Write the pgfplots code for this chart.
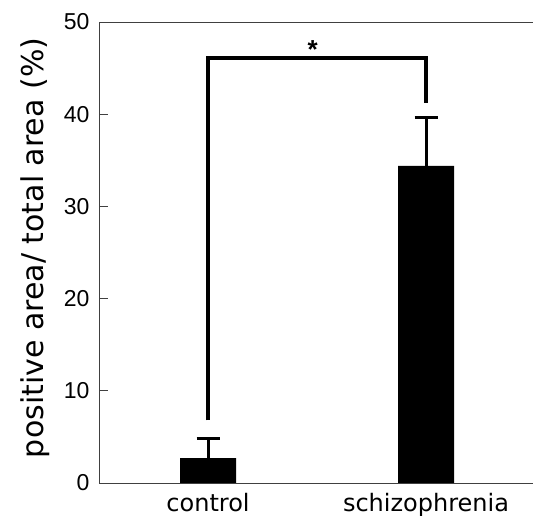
\documentclass[border=0pt]{standalone}
\usepackage{fontspec}
\setmainfont{Liberation Sans}
\newfontfamily\dejavu{DejaVu Sans}
\usepackage{pgfplots}
\pgfplotsset{compat=1.18}

\begin{document}
\begin{tikzpicture}[x=1pt,y=1pt]
\begin{axis}[name=ax,at={(99pt,35pt)},anchor=south west,
scale only axis,width=436pt,height=461pt,
xmin=0,xmax=2,ymin=0,ymax=50,
axis line style={black!75,line width=0.8pt},
ytick={0,10,20,30,40,50},ytick pos=left,
major tick style={black!75,line width=0.8pt},major tick length=9pt,
xtick={0.5,1.5},xticklabels={control,schizophrenia},xtick pos=bottom,
xtick style={draw=none},
extra x ticks={1},extra x tick labels={},
extra x tick style={major tick length=11pt,tick style={draw=black!75,line width=0.8pt}},
tick align=inside,
/pgf/number format/assume math mode=true,
yticklabel style={font=\fontsize{23}{23}\selectfont,xshift=-6pt},
xticklabel style={font=\dejavu\fontsize{24}{24}\selectfont,yshift=-7pt},
ylabel={positive area/ total area (\%)},
every axis y label/.style={at={(axis description cs:-0.147,0.51)},rotate=90,anchor=center,font=\dejavu\fontsize{30}{30}\selectfont},
]
\addplot[ybar,bar width=56pt,fill=black,draw=none,
  error bars/.cd,y dir=plus,y explicit,
  error bar style={line width=3pt,black},
  error mark options={rotate=90,mark size=11.5pt,line width=3pt,black}]
  coordinates {(0.5,2.7)+-(0,2.1) (1.5,34.4)+-(0,5.2)};
\addplot[black,line width=4pt,no marks,sharp plot,line join=miter]
  coordinates {(0.5,6.8) (0.5,46.1) (1.5,46.1) (1.5,41.2)};
\node[font=\fontsize{26}{26}\selectfont\bfseries] at (axis cs:0.98,47.0) {*};
\end{axis}
\pgfresetboundingbox
\useasboundingbox (0,0) rectangle (533,518);
\end{tikzpicture}
\end{document}
